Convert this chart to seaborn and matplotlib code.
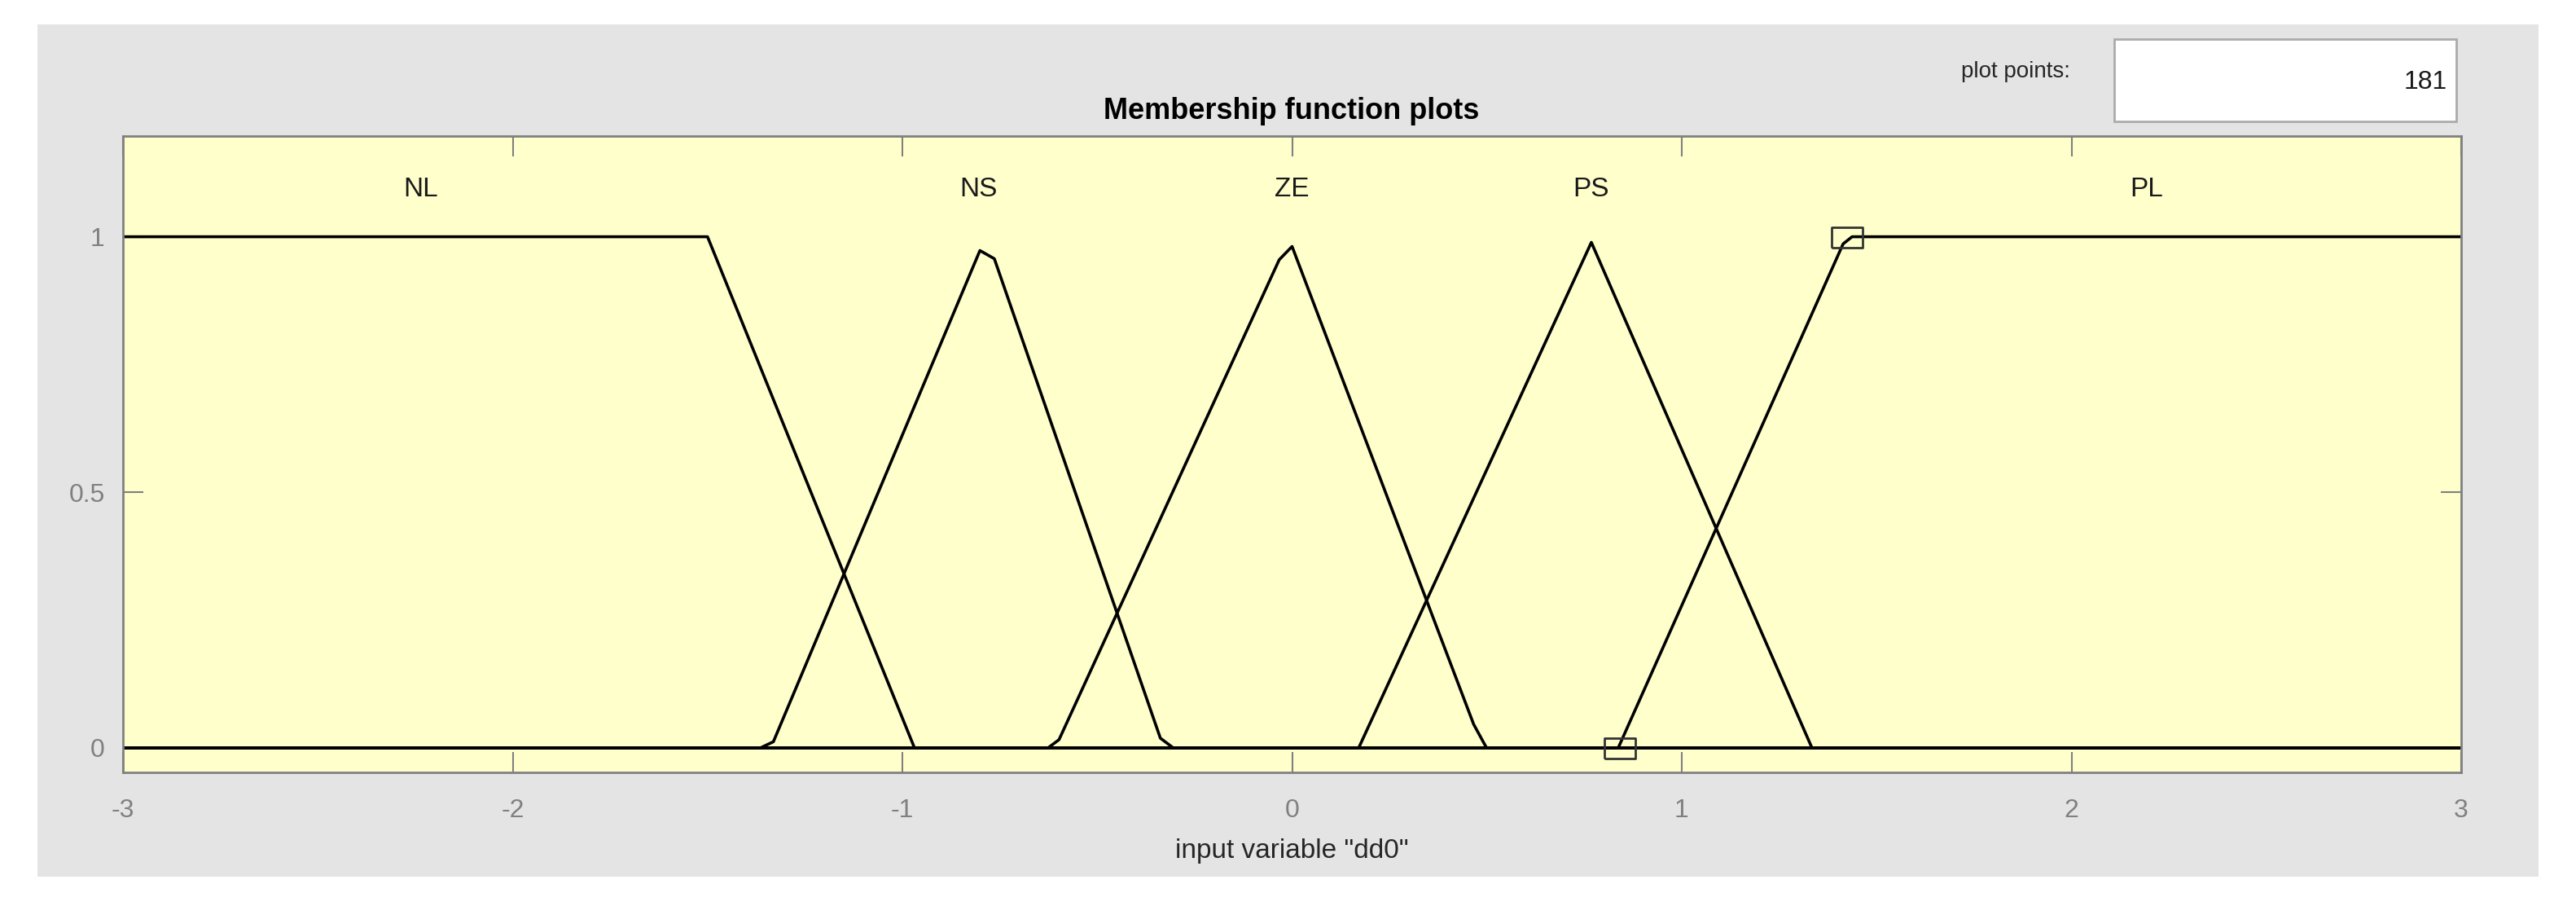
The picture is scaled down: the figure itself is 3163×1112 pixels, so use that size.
import pandas as pd
import matplotlib
matplotlib.use("Agg")
import matplotlib.pyplot as plt
from matplotlib.patches import Rectangle
import seaborn as sns

# Membership functions of input "dd0" (polyline vertices)
mf_names = ["NL", "NS", "ZE", "PS", "PL"]
nl_x = [-3.0, -1.5, -0.969, 3.0]
nl_y = [1.0, 1.0, 0.0, 0.0]
ns_x = [-3.0, -1.364, -1.331, -0.801, -0.764, -0.338, -0.305, 3.0]
ns_y = [0.0, 0.0, 0.012, 0.973, 0.957, 0.019, 0.0, 0.0]
ze_x = [-3.0, -0.626, -0.598, -0.033, 0.0, 0.466, 0.499, 3.0]
ze_y = [0.0, 0.0, 0.016, 0.955, 0.981, 0.046, 0.0, 0.0]
ps_x = [-3.0, 0.171, 0.768, 1.334, 3.0]
ps_y = [0.0, 0.0, 0.989, 0.0, 0.0]
pl_x = [-3.0, 0.837, 1.414, 1.437, 3.0]
pl_y = [0.0, 0.0, 0.986, 1.0, 1.0]

# MF name positions
label_x = [-2.237, -0.804, 0.0, 0.766, 2.193]
label_y = 1.092

# handles of the selected MF (PL)
handle_x = [0.842, 1.424]
handle_y = [0.0, 1.0]

x_ticks = [-3, -2, -1, 0, 1, 2, 3]
y_ticks = [0, 0.5, 1]
y_ticklabels = ["0", "0.5", "1"]
plot_points = 181

# long-form table for seaborn
frames = []
for name, xs, ys in zip(mf_names, [nl_x, ns_x, ze_x, ps_x, pl_x],
                        [nl_y, ns_y, ze_y, ps_y, pl_y]):
    frames.append(pd.DataFrame({"x": xs, "mu": ys, "mf": name}))
df = pd.concat(frames, ignore_index=True)

sns.set_theme(style="white")
plt.rcParams["font.family"] = ["Liberation Sans", "DejaVu Sans"]
plt.rcParams["axes.unicode_minus"] = False

W, H = 3163, 1112
fig = plt.figure(figsize=(W / 100, H / 100), dpi=100, facecolor="white")

# grey window panel
fig.patches.append(Rectangle((46 / W, 1 - 1076 / H), (3117 - 46) / W, (1076 - 30) / H,
                             transform=fig.transFigure, facecolor="#e4e4e4",
                             edgecolor="none", zorder=-2))
# "plot points" edit box
fig.patches.append(Rectangle((2596 / W, 1 - 149 / H), 420 / W, 101 / H,
                             transform=fig.transFigure, facecolor="white",
                             edgecolor="#ababab", linewidth=2, zorder=-1))

ax = fig.add_axes([151 / W, 1 - 948 / H, (3022 - 151) / W, (948 - 167) / H])
ax.set_facecolor("#ffffcc")

sns.lineplot(data=df, x="x", y="mu", hue="mf", palette=["black"] * 5,
             estimator=None, sort=False, legend=False, linewidth=2.6, ax=ax)

rect_marker = [(-1.5, -1), (1.5, -1), (1.5, 1), (-1.5, 1), (-1.5, -1)]
ax.plot(handle_x, handle_y, linestyle="none", marker=rect_marker, markersize=27,
        markerfacecolor="none", markeredgecolor="#333333", markeredgewidth=2)

for name, lx in zip(mf_names, label_x):
    ax.text(lx, label_y, name, ha="center", va="center", fontsize=24, color="#1a1a1a")

ax.set_xlim(-3, 3)
ax.set_ylim(-0.048, 1.197)
ax.set_xticks(x_ticks)
ax.set_yticks(y_ticks)
ax.set_yticklabels(y_ticklabels)
ax.set_xlabel("")
ax.set_ylabel("")
for s in ax.spines.values():
    s.set_color("#808080")
    s.set_linewidth(2)
ax.tick_params(direction="in", length=18, width=1.5, color="#808080",
               labelcolor="#808080", labelsize=23,
               top=True, right=True, bottom=True, left=True)
ax.tick_params(axis="x", pad=23)
ax.tick_params(axis="y", pad=16)

fig.text(1586 / W, 1 - 136 / H, "Membership function plots", ha="center", va="center",
         fontsize=26, fontweight="bold", color="black")
fig.text(1586 / W, 1 - 1045 / H, 'input variable "dd0"', ha="center", va="center",
         fontsize=24, color="#262626")
fig.text(2542 / W, 1 - 88 / H, "plot points:", ha="right", va="center",
         fontsize=20, color="#262626")
fig.text(3005 / W, 1 - 101 / H, str(plot_points), ha="right", va="center",
         fontsize=23, color="#1a1a1a")

fig.savefig("out.png", dpi=100, facecolor="white")
